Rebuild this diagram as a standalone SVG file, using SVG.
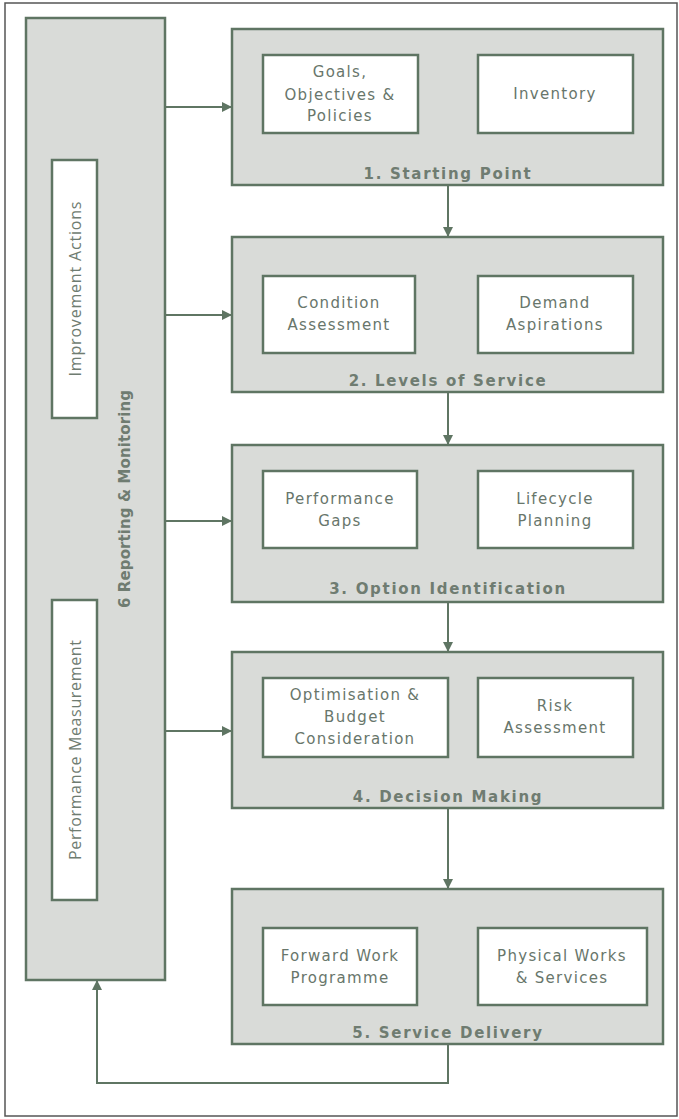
<svg xmlns="http://www.w3.org/2000/svg" width="679" height="1119" viewBox="0 0 679 1119">
<style>
.frame{fill:#fff;stroke:#555;stroke-width:1.5}
.outer{fill:#d9dbd8;stroke:#5f7563;stroke-width:2.5}
.inner{fill:#fff;stroke:#5f7563;stroke-width:2.5}
.t{font-family:"DejaVu Sans",Verdana,sans-serif;font-size:15px;fill:#68766b;text-anchor:middle;letter-spacing:1.3px}
.title{font-family:"DejaVu Sans",Verdana,sans-serif;font-size:15px;font-weight:bold;fill:#6f7c71;text-anchor:middle;letter-spacing:1.7px}
.rot{font-family:"Open Sans","Liberation Sans",sans-serif;font-size:16px;fill:#6f7c71;text-anchor:middle}
.rotb{font-family:"DejaVu Sans",Verdana,sans-serif;font-size:15px;font-weight:bold;fill:#6f7c71;text-anchor:middle}
.conn{fill:none;stroke:#5f7563;stroke-width:2}
</style>
<defs>
<marker id="ah" markerWidth="10" markerHeight="10" refX="9" refY="5" orient="auto" markerUnits="userSpaceOnUse">
<path d="M0,0 L10,5 L0,10 Z" fill="#5f7563"/>
</marker>
</defs>
<rect class="frame" x="5" y="3" width="672" height="1113"/>
<g id="connectors">
<line class="conn" x1="165" y1="107" x2="231" y2="107" marker-end="url(#ah)"/>
<line class="conn" x1="165" y1="315" x2="231" y2="315" marker-end="url(#ah)"/>
<line class="conn" x1="165" y1="521" x2="231" y2="521" marker-end="url(#ah)"/>
<line class="conn" x1="165" y1="731" x2="231" y2="731" marker-end="url(#ah)"/>
<line class="conn" x1="448" y1="185" x2="448" y2="236" marker-end="url(#ah)"/>
<line class="conn" x1="448" y1="392" x2="448" y2="444" marker-end="url(#ah)"/>
<line class="conn" x1="448" y1="602" x2="448" y2="651" marker-end="url(#ah)"/>
<line class="conn" x1="448" y1="808" x2="448" y2="888" marker-end="url(#ah)"/>
<polyline class="conn" points="448,1044 448,1083 97,1083 97,981" marker-end="url(#ah)"/>
</g>
<g id="node6">
<rect class="outer" x="26" y="18" width="139" height="962"/>
<text class="rotb" transform="translate(130,499) rotate(-90)" textLength="218" lengthAdjust="spacing">6  Reporting &amp; Monitoring</text>
</g>
<g id="node6a">
<rect class="inner" x="52" y="160" width="45" height="258"/>
<text class="rot" transform="translate(81,289) rotate(-90)" textLength="175" lengthAdjust="spacing">Improvement Actions</text>
</g>
<g id="node6b">
<rect class="inner" x="52" y="600" width="45" height="300"/>
<text class="rot" transform="translate(81,750) rotate(-90)" textLength="220" lengthAdjust="spacing">Performance Measurement</text>
</g>
<g id="node1">
<rect class="outer" x="232" y="29" width="431" height="156"/>
<text class="title" x="448" y="179">1. Starting Point</text>
</g>
<g id="node1a">
<rect class="inner" x="263" y="55" width="155" height="78"/>
<text class="t" x="340" y="77">Goals,</text>
<text class="t" x="340" y="100">Objectives &amp;</text>
<text class="t" x="340" y="121">Policies</text>
</g>
<g id="node1b">
<rect class="inner" x="478" y="55" width="155" height="78"/>
<text class="t" x="555" y="99">Inventory</text>
</g>
<g id="node2">
<rect class="outer" x="232" y="237" width="431" height="155"/>
<text class="title" x="448" y="386">2.  Levels of Service</text>
</g>
<g id="node2a">
<rect class="inner" x="263" y="276" width="152" height="77"/>
<text class="t" x="339" y="308">Condition</text>
<text class="t" x="339" y="330">Assessment</text>
</g>
<g id="node2b">
<rect class="inner" x="478" y="276" width="155" height="77"/>
<text class="t" x="555" y="308">Demand</text>
<text class="t" x="555" y="330">Aspirations</text>
</g>
<g id="node3">
<rect class="outer" x="232" y="445" width="431" height="157"/>
<text class="title" x="448" y="594">3.  Option Identification</text>
</g>
<g id="node3a">
<rect class="inner" x="263" y="471" width="154" height="77"/>
<text class="t" x="340" y="504">Performance</text>
<text class="t" x="340" y="526">Gaps</text>
</g>
<g id="node3b">
<rect class="inner" x="478" y="471" width="155" height="77"/>
<text class="t" x="555" y="504">Lifecycle</text>
<text class="t" x="555" y="526">Planning</text>
</g>
<g id="node4">
<rect class="outer" x="232" y="652" width="431" height="156"/>
<text class="title" x="448" y="802">4. Decision Making</text>
</g>
<g id="node4a">
<rect class="inner" x="263" y="678" width="185" height="79"/>
<text class="t" x="355" y="700">Optimisation &amp;</text>
<text class="t" x="355" y="722">Budget</text>
<text class="t" x="355" y="744">Consideration</text>
</g>
<g id="node4b">
<rect class="inner" x="478" y="678" width="155" height="79"/>
<text class="t" x="555" y="711">Risk</text>
<text class="t" x="555" y="733">Assessment</text>
</g>
<g id="node5">
<rect class="outer" x="232" y="889" width="431" height="155"/>
<text class="title" x="448" y="1038">5. Service Delivery</text>
</g>
<g id="node5a">
<rect class="inner" x="263" y="928" width="154" height="77"/>
<text class="t" x="340" y="961">Forward Work</text>
<text class="t" x="340" y="983">Programme</text>
</g>
<g id="node5b">
<rect class="inner" x="478" y="928" width="169" height="77"/>
<text class="t" x="562" y="961">Physical Works</text>
<text class="t" x="562" y="983">&amp; Services</text>
</g>
</svg>
